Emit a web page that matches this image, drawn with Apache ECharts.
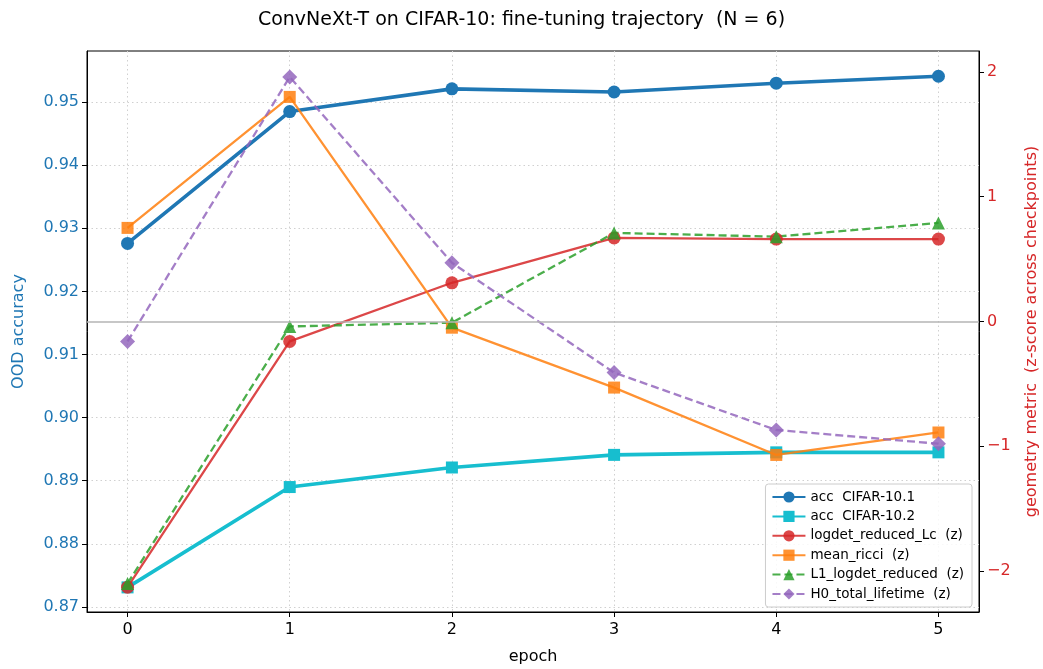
<!DOCTYPE html>
<html><head><meta charset="utf-8">
<script src="https://cdn.jsdelivr.net/npm/echarts@6/dist/echarts.min.js"></script>
<style>html,body{margin:0;padding:0;background:#fff}#c{width:1043px;height:669px}</style>
</head><body><div id="c"></div>
<script>
const epochs = [0, 1, 2, 3, 4, 5];
const xTicks = [0, 1, 2, 3, 4, 5];
const leftTicks = [0.87, 0.88, 0.89, 0.90, 0.91, 0.92, 0.93, 0.94, 0.95];
const rightTicks = [-2, -1, 0, 1, 2];
const accC101 = [0.9276, 0.9485, 0.9521, 0.9516, 0.9530, 0.9541];
const accC102 = [0.8731, 0.8890, 0.8921, 0.8941, 0.8945, 0.8945];
const logdetReducedLc = [-2.13, -0.16, 0.31, 0.67, 0.66, 0.66];
const meanRicci = [0.75, 1.80, -0.05, -0.53, -1.07, -0.89];
const l1LogdetReduced = [-2.10, -0.04, -0.01, 0.71, 0.68, 0.79];
const h0TotalLifetime = [-0.16, 1.96, 0.47, -0.41, -0.87, -0.98];

const F = 'DejaVu Sans';
const pairs = v => epochs.map((e, i) => [e, v[i]]);
const chart = echarts.init(document.getElementById('c'), null, {renderer: 'canvas'});

function zSeries(name, data, color, symbol, size, dashed) {
  return {
    name, type: 'line', yAxisIndex: 1, data: pairs(data), z: 3,
    symbol, symbolSize: size, showSymbol: true,
    itemStyle: {color, opacity: 0.85},
    lineStyle: {color, width: 2.3, opacity: 0.85, type: dashed ? [8, 4] : 'solid'},
    emphasis: {disabled: true}, animation: false
  };
}

chart.setOption({
  animation: false,
  title: {text: 'ConvNeXt-T on CIFAR-10: fine-tuning trajectory  (N = 6)', left: 'center', top: 6,
    textStyle: {fontFamily: F, fontSize: 19, fontWeight: 'normal', color: '#000'}},
  grid: {left: 87, right: 64, top: 51, bottom: 57, outerBoundsMode: 'none', containLabel: false,
    show: true, borderColor: '#000', borderWidth: 1, backgroundColor: 'transparent'},
  legend: {
    orient: 'vertical', right: 71, bottom: 62, itemWidth: 33, itemHeight: 14, itemGap: 5.4,
    padding: [6, 8, 6, 6], backgroundColor: 'rgba(255,255,255,0.85)', borderColor: '#ccc', borderWidth: 1, borderRadius: 3,
    textStyle: {fontFamily: F, fontSize: 13.5, color: '#000'},
    data: ['acc  CIFAR-10.1', 'acc  CIFAR-10.2', 'logdet_reduced_Lc  (z)', 'mean_ricci  (z)', 'L1_logdet_reduced  (z)', 'H0_total_lifetime  (z)']
  },
  xAxis: {
    type: 'value', min: -0.25, max: 5.25,
    name: 'epoch', nameLocation: 'middle', nameGap: 37,
    nameTextStyle: {fontFamily: F, fontSize: 16, color: '#000'},
    axisLine: {show: true, onZero: false, lineStyle: {color: '#000', width: 1}},
    axisTick: {show: true, length: 5, customValues: xTicks, lineStyle: {color: '#000'}},
    axisLabel: {customValues: xTicks, margin: 10, fontFamily: F, fontSize: 16, color: '#000'},
    splitLine: {show: true, lineStyle: {color: '#d0d0d0', type: [1.5, 3], width: 1}}
  },
  yAxis: [{
    type: 'value', min: 0.8692, max: 0.9581, position: 'left',
    name: 'OOD accuracy', nameLocation: 'middle', nameGap: 60, nameRotate: 90,
    nameTextStyle: {fontFamily: F, fontSize: 16, color: '#1f77b4'},
    axisLine: {show: true, onZero: false, lineStyle: {color: '#000', width: 1}},
    axisTick: {show: true, length: 5, customValues: leftTicks, lineStyle: {color: '#000'}},
    axisLabel: {customValues: leftTicks, margin: 8, fontFamily: F, fontSize: 16, color: '#1f77b4',
      formatter: v => v.toFixed(2)},
    splitLine: {show: true, lineStyle: {color: '#d0d0d0', type: [1.5, 3], width: 1}}
  }, {
    type: 'value', min: -2.329, max: 2.168, position: 'right',
    name: 'geometry metric  (z-score across checkpoints)', nameLocation: 'middle', nameGap: 45, nameRotate: 90,
    nameTextStyle: {fontFamily: F, fontSize: 16, color: '#d62728'},
    axisLine: {show: true, onZero: false, lineStyle: {color: '#000', width: 1}},
    axisTick: {show: true, length: 5, customValues: rightTicks, lineStyle: {color: '#000'}},
    axisLabel: {customValues: rightTicks, margin: 8, fontFamily: F, fontSize: 16, color: '#d62728',
      formatter: v => String(v).replace('-', '\u2212')},
    splitLine: {show: false}
  }],
  series: [
    {type: 'line', yAxisIndex: 1, data: [], z: 1, silent: true,
      markLine: {symbol: 'none', silent: true, label: {show: false}, animation: false,
        lineStyle: {color: '#b5b5b5', width: 1.5, type: 'solid'}, data: [{yAxis: 0}]}},
    {name: 'acc  CIFAR-10.1', type: 'line', yAxisIndex: 0, data: pairs(accC101), z: 2,
      symbol: 'circle', symbolSize: 13, itemStyle: {color: '#1f77b4'}, lineStyle: {color: '#1f77b4', width: 3.6}},
    {name: 'acc  CIFAR-10.2', type: 'line', yAxisIndex: 0, data: pairs(accC102), z: 2,
      symbol: 'rect', symbolSize: 12, itemStyle: {color: '#17becf'}, lineStyle: {color: '#17becf', width: 3.6}},
    zSeries('logdet_reduced_Lc  (z)', logdetReducedLc, '#d62728', 'circle', 13, false),
    zSeries('mean_ricci  (z)', meanRicci, '#ff7f0e', 'rect', 12, false),
    zSeries('L1_logdet_reduced  (z)', l1LogdetReduced, '#2ca02c', 'triangle', 13, true),
    zSeries('H0_total_lifetime  (z)', h0TotalLifetime, '#9467bd', 'diamond', 15, true)
  ]
});
</script></body></html>
